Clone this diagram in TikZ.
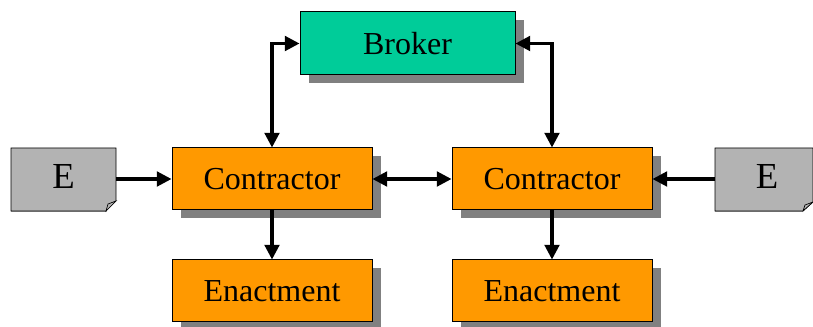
\documentclass[tikz,border=0pt]{standalone}
\usepackage{fontspec}
\setmainfont{Liberation Serif}
\usetikzlibrary{arrows.meta}
\definecolor{orangebox}{HTML}{FF9900}
\definecolor{greenbox}{HTML}{00CC99}
\definecolor{graybox}{HTML}{B3B3B3}
\definecolor{shadowgray}{HTML}{808080}
\begin{document}
\begin{tikzpicture}[x=0.75pt,y=-0.75pt,
  box/.style={draw=black,line width=0.75pt,minimum width=150pt,minimum height=46.5pt,inner sep=0pt,font=\fontsize{24}{26}\selectfont},
  shad/.style={fill=shadowgray},
  tip/.tip={Triangle[length=11pt,width=11pt]},
  conn/.style={line width=2.3pt,-tip},
  biconn/.style={line width=2.3pt,tip-tip},
  etext/.style={font=\fontsize{27.5}{30}\selectfont,anchor=base,inner sep=0pt}]
\useasboundingbox (0,0) rectangle (813,327);
% shadows
\fill[shad] (309,20) rectangle (524,83);
\fill[shad] (181,156) rectangle (381,218);
\fill[shad] (461,156) rectangle (661,218);
\fill[shad] (181,268) rectangle (381,330);
\fill[shad] (461,268) rectangle (661,330);
% boxes
\node[box,fill=greenbox,minimum width=161.25pt,minimum height=47.25pt] (broker) at (407.5,43.5) {Broker};
\node[box,fill=orangebox] (c1) at (272,179) {Contractor};
\node[box,fill=orangebox] (c2) at (552,179) {Contractor};
\node[box,fill=orangebox] (e1) at (272,291) {Enactment};
\node[box,fill=orangebox] (e2) at (552,291) {Enactment};
% E documents
\fill[shadowgray!70] (11,209) -- (107,209) -- (107,212) -- (11,212) -- cycle;
\draw[fill=graybox,line width=0.5pt] (11,148) -- (116,148) -- (116,201) -- (106,211) -- (11,211) -- cycle;
\draw[fill=shadowgray!60,line width=0.5pt] (116,201) -- (108,204) -- (106,211) -- cycle;
\node[etext] (ea) at (63.5,189) {E};
\fill[shadowgray!70] (715,209) -- (802,209) -- (802,212) -- (715,212) -- cycle;
\draw[fill=graybox,line width=0.5pt] (715,148) -- (813,148) -- (813,202) -- (803,211) -- (715,211) -- cycle;
\draw[fill=shadowgray!60,line width=0.5pt] (813,202) -- (805,205) -- (803,211) -- cycle;
\node[etext] (eb) at (767,189) {E};
\coordinate (eaR) at (116,179);
\coordinate (ebL) at (715,179);
% connectors
\draw[conn] (eaR) -- (c1.west);
\draw[conn] (ebL) -- (c2.east);
\draw[biconn] (c1.east) -- (c2.west);
\draw[conn] (c1.south) -- (e1.north);
\draw[conn] (c2.south) -- (e2.north);
\draw[biconn] (c1.north) |- (broker.west);
\draw[biconn] (c2.north) |- (broker.east);
\end{tikzpicture}
\end{document}
